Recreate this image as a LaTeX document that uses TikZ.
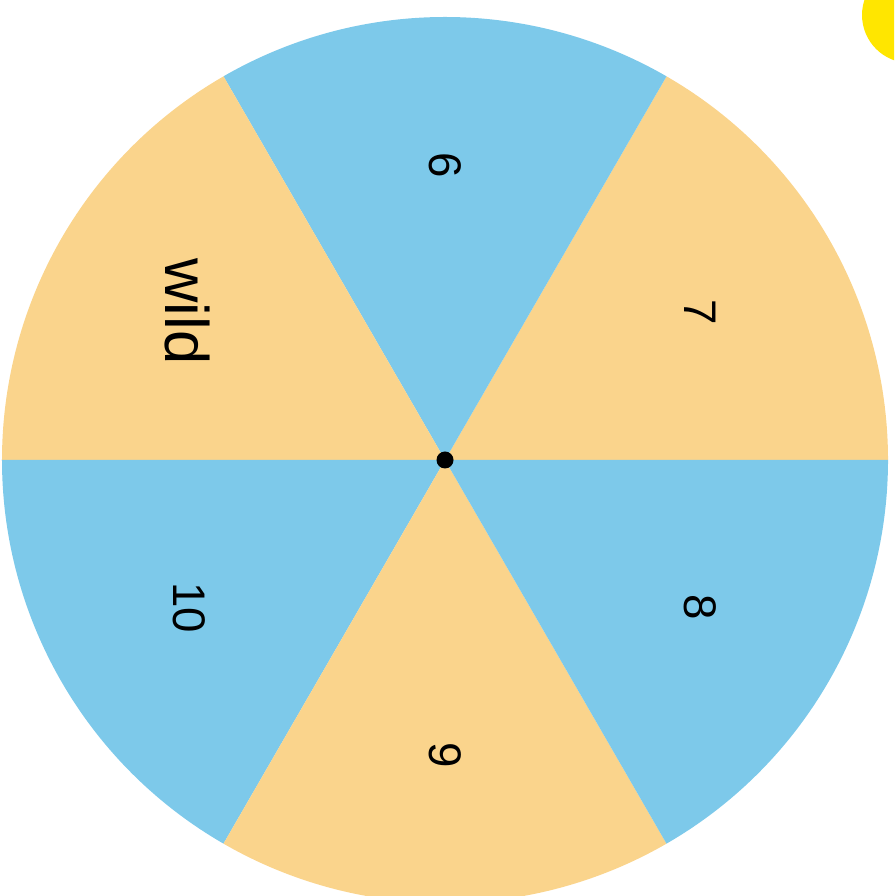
\documentclass[tikz,border=0pt]{standalone}
\usepackage{fontspec}
\setmainfont{Liberation Sans}
\usepackage{tikz}
\usetikzlibrary{positioning}
\usepackage{xcolor}

\definecolor{spinblue}{RGB}{125,201,234}
\definecolor{spinpeach}{RGB}{250,212,140}
\definecolor{spinyellow}{RGB}{255,230,0}

\begin{document}
\begin{tikzpicture}[numlab/.style={rotate=-90, inner sep=0pt, font=\fontsize{13}{15}\selectfont},
		wordlab/.style={rotate=-90, inner sep=0pt, font=\fontsize{17.5}{20}\selectfont},
		hub/.style={circle, fill=black, inner sep=0pt, minimum size=0.17cm}]
		\useasboundingbox (-4.45,-4.36) rectangle (4.49,4.60);
		\clip (-4.45,-4.36) rectangle (4.49,4.60);
		\fill[spinyellow] (4.65,4.45) circle (0.48);
		\coordinate (c) at (0,0);
		
		% sectors of the spinner
		\foreach \a/\col in {0/spinpeach, 60/spinblue, 120/spinpeach, 180/spinblue, 240/spinpeach, 300/spinblue}
		\fill[\col] (c) -- (\a:4.43) arc (\a:\a+60:4.43) -- cycle;
		
		\node [numlab] (six) at (90:2.95) {6};
		\node [numlab] (seven) at (30:2.95) {7};
		\node [numlab] (eight) at (-30:2.95) {8};
		\node [numlab] (nine) at (-90:2.95) {9};
		\node [numlab] (ten) at (-150:2.95) {10};
		\node [wordlab] (wild) at (150:2.97) {wild};
		\node [hub] (centre) at (c) {};
	\end{tikzpicture}
\end{document}
